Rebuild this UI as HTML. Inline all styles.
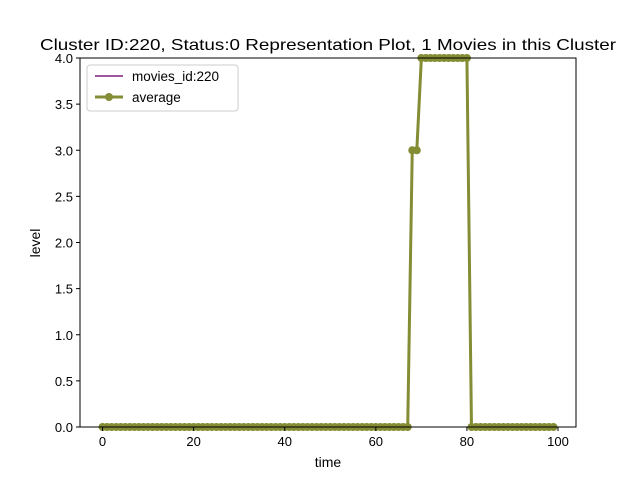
<!DOCTYPE html>
<html><head><meta charset="utf-8"><style>
body{margin:0;background:#fff;}
svg text{font-family:"Liberation Sans","DejaVu Sans",sans-serif;}
</style></head><body>
<svg id="chart" width="640" height="480" xmlns="http://www.w3.org/2000/svg">
<rect width="640" height="480" fill="#fff"/>
<text x="40" y="50" font-size="16" textLength="576" lengthAdjust="spacingAndGlyphs">Cluster ID:220, Status:0 Representation Plot, 1 Movies in this Cluster</text>
<g id="plot"></g>
<rect x="80" y="58" width="496" height="369" fill="none" stroke="#000" stroke-width="1"/>
<g id="ticks"></g>
<text x="328" y="467" font-size="14" text-anchor="middle">time</text>
<text transform="translate(40,243) rotate(-90)" font-size="14" text-anchor="middle">level</text>
<g>
<rect x="87" y="65" width="151" height="46" rx="3" fill="#fff" fill-opacity="0.8" stroke="#ccc"/>
<line x1="95" y1="76" x2="123" y2="76" stroke="#7f1f7f" stroke-width="1.5"/>
<text x="132" y="81" font-size="13.5">movies_id:220</text>
<line x1="95" y1="97" x2="123" y2="97" stroke="#848c34" stroke-width="3"/>
<circle cx="109" cy="97" r="4" fill="#848c34"/>
<text x="132" y="102" font-size="13.5">average</text>
</g>
</svg>
<script>
const times = Array.from({length:100},(_,i)=>i);
const movieValues = [0,0,0,0,0,0,0,0,0,0,0,0,0,0,0,0,0,0,0,0,0,0,0,0,0,0,0,0,0,0,0,0,0,0,0,0,0,0,0,0,0,0,0,0,0,0,0,0,0,0,0,0,0,0,0,0,0,0,0,0,0,0,0,0,0,0,0,0,3,3,4,4,4,4,4,4,4,4,4,4,4,0,0,0,0,0,0,0,0,0,0,0,0,0,0,0,0,0,0,0];
const averageValues = movieValues.slice();
const xTicks = [0,20,40,60,80,100];
const yTicks = [0.0,0.5,1.0,1.5,2.0,2.5,3.0,3.5,4.0];
const NS="http://www.w3.org/2000/svg";
const X0=80,X1=576,Y0=58,Y1=427,xmin=-4.95,xmax=103.95,ymin=0,ymax=4;
const sx=v=>X0+(v-xmin)/(xmax-xmin)*(X1-X0);
const sy=v=>Y1-(v-ymin)/(ymax-ymin)*(Y1-Y0);
const plot=document.getElementById('plot'),ticks=document.getElementById('ticks');
function mk(t,a,p){const e=document.createElementNS(NS,t);for(const k in a)e.setAttribute(k,a[k]);p.appendChild(e);return e;}
const clip=mk('clipPath',{id:'c'},plot);mk('rect',{x:X0,y:Y0-4,width:X1-X0,height:Y1-Y0+8},clip);
const g=mk('g',{'clip-path':'url(#c)'},plot);
const l1=mk('polyline',{points:times.map((t,i)=>sx(t)+','+sy(movieValues[i])).join(' '),fill:'none',stroke:'#7f1f7f','stroke-width':1.5},g);


const l2=mk('polyline',{points:times.map((t,i)=>sx(t)+','+sy(averageValues[i])).join(' '),fill:'none',stroke:'#848c34','stroke-width':3,'stroke-linejoin':'round'},g);


times.forEach((t,i)=>{const c=mk('circle',{cx:sx(t),cy:sy(averageValues[i]),r:4,fill:'#848c34'},g);

});
xTicks.forEach(v=>{const x=sx(v);
const l=mk('line',{x1:x,x2:x,y1:Y1,y2:Y1+4,stroke:'#000'},ticks);


const t=mk('text',{x:x,y:Y1+19,'font-size':13,'text-anchor':'middle'},ticks);t.textContent=v;

});
yTicks.forEach(v=>{const y=sy(v);
const l=mk('line',{x1:X0-4,x2:X0,y1:y,y2:y,stroke:'#000'},ticks);


const t=mk('text',{x:X0-7,y:y+5,'font-size':13,'text-anchor':'end'},ticks);t.textContent=v.toFixed(1);

});
</script>
</body></html>
